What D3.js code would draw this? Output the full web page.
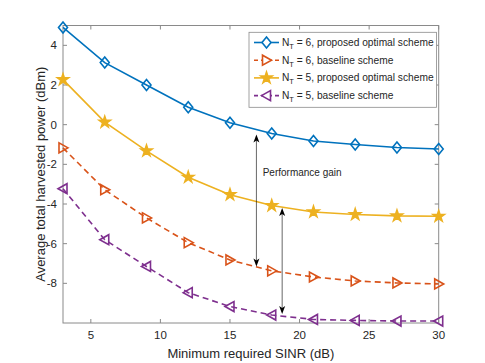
<!DOCTYPE html>
<html><head><meta charset="utf-8">
<script src="https://cdn.jsdelivr.net/npm/d3@7"></script>
<style>body{margin:0;background:#fff}svg{display:block;font-family:"Liberation Sans",Arial,sans-serif}</style>
</head><body><svg id="c" width="485" height="363"></svg>
<script>
const sinr = [3,6,9,12,15,18,21,24,27,30];
const nt6Proposed = [4.9,3.13,2.0,0.88,0.1,-0.45,-0.82,-1.0,-1.15,-1.23];
const nt6Baseline = [-1.17,-3.28,-4.7,-5.95,-6.82,-7.37,-7.68,-7.88,-7.98,-8.03];
const nt5Proposed = [2.27,0.13,-1.32,-2.65,-3.53,-4.08,-4.4,-4.53,-4.6,-4.62];
const nt5Baseline = [-3.23,-5.8,-7.15,-8.47,-9.17,-9.6,-9.82,-9.87,-9.9,-9.9];
const xTicks = [5,10,15,20,25,30];
const yTicks = [-8,-6,-4,-2,0,2,4];
const seriesNames = ["6, proposed optimal scheme","6, baseline scheme","5, proposed optimal scheme","5, baseline scheme"];
const arrows = [{x:16.9,y1:-0.5,y2:-7.15},{x:18.75,y1:-4.2,y2:-9.55}];
const annot = {x:17.35,y:-2.4,text:"Performance gain"};

const series = [
  {name:seriesNames[0],values:nt6Proposed,color:"#0072BD",dash:null,marker:"diamond"},
  {name:seriesNames[1],values:nt6Baseline,color:"#D95319",dash:"6,4",marker:"triR"},
  {name:seriesNames[2],values:nt5Proposed,color:"#EDB120",dash:null,marker:"star"},
  {name:seriesNames[3],values:nt5Baseline,color:"#7E2F8E",dash:"6,4",marker:"triL"}
];

const svg = d3.select("#c");
const L=63,R=438.7,T=25.5,B=323;
const x = d3.scaleLinear().domain([3,30]).range([L,R]);
const y = d3.scaleLinear().domain([-10,5]).range([B,T]);
const axisCol="#8a8a8a", textCol="#262626";

function markerPath(type){
  if(type==="diamond") return "M0,-5.5L4.5,0L0,5.5L-4.5,0Z";
  if(type==="triR") return "M5,0L-4,-5L-4,5Z";
  if(type==="triL") return "M-5,0L4,-5L4,5Z";
  return d3.symbol(d3.symbolStar).size(38)();
}

const g = svg.append("g");
g.append("rect").attr("x",L).attr("y",T).attr("width",R-L).attr("height",B-T).attr("fill","#fff");

xTicks.forEach(t=>{
  g.append("line").attr("x1",x(t)).attr("x2",x(t)).attr("y1",B).attr("y2",B-4).attr("stroke",axisCol);
  g.append("line").attr("x1",x(t)).attr("x2",x(t)).attr("y1",T).attr("y2",T+4).attr("stroke",axisCol);
  g.append("text").attr("x",x(t)).attr("y",B+16).attr("text-anchor","middle").attr("font-size",11.5).attr("fill",textCol).text(t);
});
yTicks.forEach(t=>{
  g.append("line").attr("x1",L).attr("x2",L+4).attr("y1",y(t)).attr("y2",y(t)).attr("stroke",axisCol);
  g.append("line").attr("x1",R).attr("x2",R-4).attr("y1",y(t)).attr("y2",y(t)).attr("stroke",axisCol);
  g.append("text").attr("x",L-6).attr("y",y(t)+4).attr("text-anchor","end").attr("font-size",11.5).attr("fill",textCol).text(t);
});
g.append("rect").attr("x",L).attr("y",T).attr("width",R-L).attr("height",B-T).attr("fill","none").attr("stroke",axisCol).attr("stroke-width",1);

svg.append("text").attr("x",(L+R)/2).attr("y",357.5).attr("text-anchor","middle").attr("font-size",13).attr("fill",textCol).text("Minimum required SINR (dB)");
svg.append("text").attr("transform",`translate(45,${(T+B)/2}) rotate(-90)`).attr("text-anchor","middle").attr("font-size",13).attr("fill",textCol).text("Average total harvested power (dBm)");

const line = d3.line().x((d,i)=>x(sinr[i])).y(d=>y(d));
series.forEach(s=>{
  svg.append("path").attr("d",line(s.values)).attr("fill","none").attr("stroke",s.color).attr("stroke-width",1.6).attr("stroke-dasharray",s.dash);
  svg.selectAll(null).data(s.values).enter().append("path")
    .attr("d",markerPath(s.marker))
    .attr("transform",(d,i)=>`translate(${x(sinr[i])},${y(d)})`)
    .attr("fill",s.marker==="star"?s.color:"none").attr("stroke",s.color).attr("stroke-width",1.6);
});

arrows.forEach(a=>{
  const ax=x(a.x), ya=y(a.y1), yb=y(a.y2);
  svg.append("line").attr("x1",ax).attr("x2",ax).attr("y1",ya+2).attr("y2",yb-2).attr("stroke","#000").attr("stroke-width",0.6);
  svg.append("path").attr("d",`M${ax},${ya}L${ax-3},${ya+8}L${ax},${ya+6}L${ax+3},${ya+8}Z`).attr("fill","#000");
  svg.append("path").attr("d",`M${ax},${yb}L${ax-3},${yb-8}L${ax},${yb-6}L${ax+3},${yb-8}Z`).attr("fill","#000");
});
svg.append("text").attr("x",x(annot.x)).attr("y",y(annot.y)+3.5).attr("font-size",10).attr("fill",textCol).text(annot.text);

const lg = svg.append("g");
lg.append("rect").attr("x",249).attr("y",32.3).attr("width",187.5).attr("height",75).attr("fill","#fff").attr("stroke",axisCol).attr("stroke-width",0.8);
series.forEach((s,i)=>{
  const yy = 42.5 + i*17.7;
  lg.append("line").attr("x1",254).attr("x2",279).attr("y1",yy).attr("y2",yy).attr("stroke",s.color).attr("stroke-width",1.6).attr("stroke-dasharray",s.dash?"4,3":null);
  lg.append("path").attr("d",markerPath(s.marker)).attr("transform",`translate(266.5,${yy})`).attr("fill",s.marker==="star"?s.color:"#fff").attr("stroke",s.color).attr("stroke-width",1.6);
  const t = lg.append("text").attr("x",282).attr("y",yy+3.5).attr("font-size",10.2).attr("fill",textCol);
  t.append("tspan").text("N");
  t.append("tspan").attr("font-size",7.5).attr("dy",3).text("T");
  t.append("tspan").attr("dy",-3).text(" = "+s.name);
});
</script></body></html>
